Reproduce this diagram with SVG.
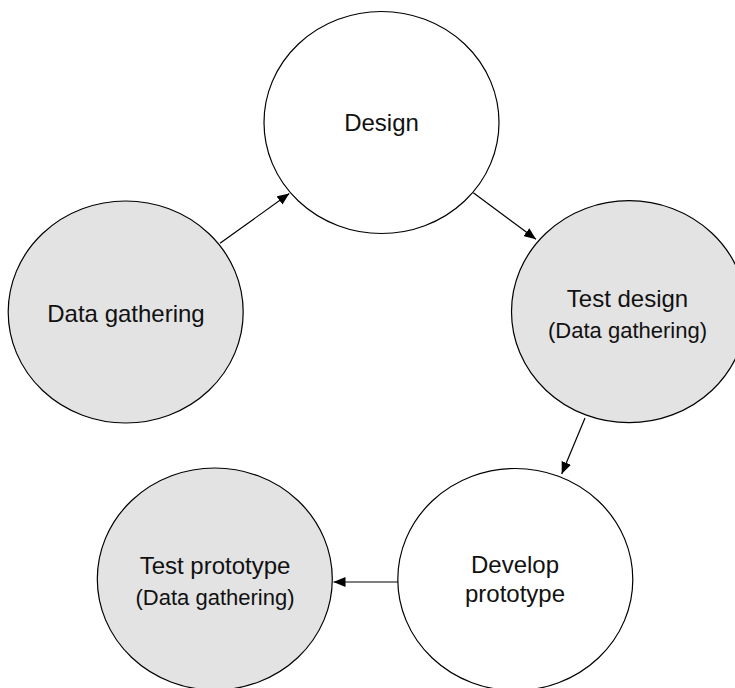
<svg xmlns="http://www.w3.org/2000/svg" width="735" height="688" viewBox="0 0 735 688">
<style>
.n{stroke:#000;stroke-width:1.2}
.w{fill:#fff}
.g{fill:#e3e3e3}
text{font-family:"Liberation Sans",Arial,sans-serif;fill:#111;text-anchor:middle}
.t{font-size:24px}
.s{font-size:22px}
.c{stroke:#000;stroke-width:1.2;fill:none;marker-end:url(#ah)}
</style>
<defs>
<marker id="ah" viewBox="0 0 12 10" refX="12" refY="5" markerWidth="12" markerHeight="10" markerUnits="userSpaceOnUse" orient="auto">
<path d="M0,0 L12,5 L0,10 Z" fill="#000"/>
</marker>
</defs>
<rect width="735" height="688" fill="#fff"/>
<g id="design"><ellipse class="n w" cx="381.5" cy="122.5" rx="117.5" ry="111"/><text class="t" x="381.5" y="130.5">Design</text></g>
<g id="data-gathering"><ellipse class="n g" cx="125.7" cy="312" rx="117.5" ry="111"/><text class="t" x="126" y="321.5">Data gathering</text></g>
<g id="test-design"><ellipse class="n g" cx="629" cy="311.7" rx="117.5" ry="111"/><text class="t" x="627.5" y="306.7">Test design</text><text class="s" x="627.5" y="337.5">(Data gathering)</text></g>
<g id="develop-prototype"><ellipse class="n w" cx="515.3" cy="579.5" rx="117.5" ry="111"/><text class="t" x="515" y="573.3">Develop</text><text class="t" x="515" y="601.7">prototype</text></g>
<g id="test-prototype"><ellipse class="n g" cx="214.8" cy="579" rx="117.5" ry="111"/><text class="t" x="215" y="574">Test prototype</text><text class="s" x="215" y="605">(Data gathering)</text></g>
<g id="connectors">
<line class="c" x1="220" y1="243.3" x2="289.3" y2="193.5"/>
<line class="c" x1="473.3" y1="192.7" x2="536" y2="239.3"/>
<line class="c" x1="585" y1="418" x2="561.7" y2="474"/>
<line class="c" x1="398" y1="582" x2="333.5" y2="582"/>
</g>
</svg>
